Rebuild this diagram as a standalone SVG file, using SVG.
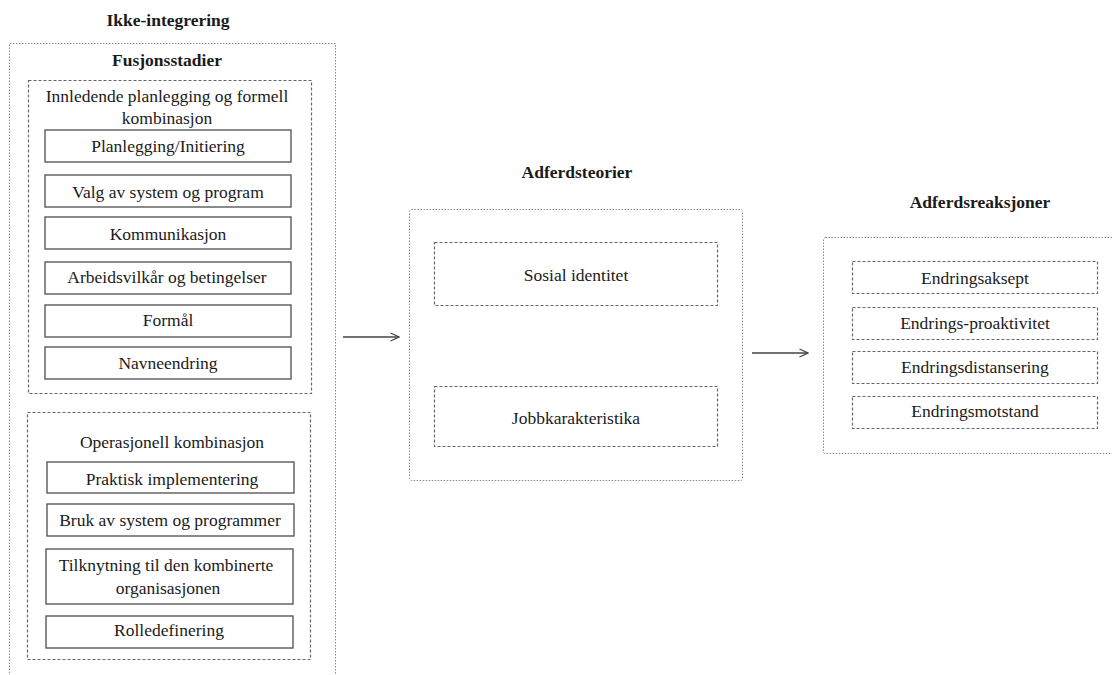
<svg xmlns="http://www.w3.org/2000/svg" width="1112" height="675" viewBox="0 0 1112 675">
<defs>
<style>
text{font-family:"Liberation Serif","Times New Roman",serif;font-size:17.5px;fill:#1a1a1a;text-anchor:middle}
.t{font-weight:bold;font-size:17.5px}
.dot{fill:none;stroke:#8a8a8a;stroke-width:1;stroke-dasharray:1.5 1.5}
.dash{fill:none;stroke:#666;stroke-width:1.2;stroke-dasharray:3 2}
.sol{fill:#fff;stroke:#5a5a5a;stroke-width:1.4}
.c{fill:none;stroke:#444;stroke-width:1.3}
</style>
<marker id="ah" viewBox="0 0 10 10" refX="9.5" refY="5" markerWidth="10" markerHeight="10" markerUnits="userSpaceOnUse" orient="auto">
<path d="M1,1 L9.5,5 L1,9" fill="none" stroke="#444" stroke-width="1.3"/>
</marker>
</defs>
<rect width="1112" height="675" fill="#fff"/>

<g id="ikke-integrering">
<text class="t" x="168" y="26">Ikke-integrering</text>
<path class="dot" d="M9.5,676 V43.5 H335.5 V676"/>
<text class="t" x="167" y="66">Fusjonsstadier</text>
</g>

<g id="innledende">
<rect class="dash" x="28.5" y="80.5" width="283" height="313"/>
<text x="167" y="102">Innledende planlegging og formell</text>
<text x="167" y="124">kombinasjon</text>
</g>
<g id="planlegging"><rect class="sol" x="45" y="130" width="246" height="32"/><text x="168" y="152">Planlegging/Initiering</text></g>
<g id="valg"><rect class="sol" x="45" y="175" width="246" height="32"/><text x="168" y="198">Valg av system og program</text></g>
<g id="kommunikasjon"><rect class="sol" x="45" y="217" width="246" height="32"/><text x="168" y="240">Kommunikasjon</text></g>
<g id="arbeidsvilkar"><rect class="sol" x="45" y="262" width="246" height="32"/><text x="167" y="283">Arbeidsvilkår og betingelser</text></g>
<g id="formal"><rect class="sol" x="45" y="305" width="246" height="32"/><text x="168" y="326">Formål</text></g>
<g id="navneendring"><rect class="sol" x="45" y="347" width="246" height="32"/><text x="168" y="369">Navneendring</text></g>

<g id="operasjonell">
<rect class="dash" x="27.5" y="412.5" width="283" height="247"/>
<text x="172" y="448">Operasjonell kombinasjon</text>
</g>
<g id="praktisk"><rect class="sol" x="47" y="462" width="247" height="31"/><text x="172" y="485">Praktisk implementering</text></g>
<g id="bruk"><rect class="sol" x="47" y="504" width="247" height="32"/><text x="170" y="526">Bruk av system og programmer</text></g>
<g id="tilknytning"><rect class="sol" x="46" y="549" width="247" height="55"/><text x="166" y="571">Tilknytning til den kombinerte</text><text x="168" y="594">organisasjonen</text></g>
<g id="rolledefinering"><rect class="sol" x="46" y="616" width="247" height="32"/><text x="169" y="636">Rolledefinering</text></g>

<g id="adferdsteorier">
<text class="t" x="577" y="178">Adferdsteorier</text>
<rect class="dot" x="409.5" y="209.5" width="333" height="271" rx="2"/>
</g>
<g id="sosial"><rect class="dash" x="434.5" y="242.5" width="283" height="63"/><text x="576" y="281">Sosial identitet</text></g>
<g id="jobb"><rect class="dash" x="434.5" y="386.5" width="283" height="60"/><text x="576" y="424">Jobbkarakteristika</text></g>

<g id="adferdsreaksjoner">
<text class="t" x="980" y="208">Adferdsreaksjoner</text>
<rect class="dot" x="823.5" y="237.5" width="300" height="216" rx="2"/>
</g>
<g id="aksept"><rect class="dash" x="852.5" y="261.5" width="245" height="32"/><text x="975" y="284">Endringsaksept</text></g>
<g id="proaktivitet"><rect class="dash" x="852.5" y="307.5" width="245" height="32"/><text x="975" y="329">Endrings-proaktivitet</text></g>
<g id="distansering"><rect class="dash" x="852.5" y="351.5" width="245" height="32"/><text x="975" y="373">Endringsdistansering</text></g>
<g id="motstand"><rect class="dash" x="852.5" y="396.5" width="245" height="32"/><text x="975" y="417">Endringsmotstand</text></g>

<g id="connectors">
<line class="c" x1="343" y1="337" x2="399" y2="337" marker-end="url(#ah)"/>
<line class="c" x1="752" y1="353" x2="808" y2="353" marker-end="url(#ah)"/>
</g>
</svg>
